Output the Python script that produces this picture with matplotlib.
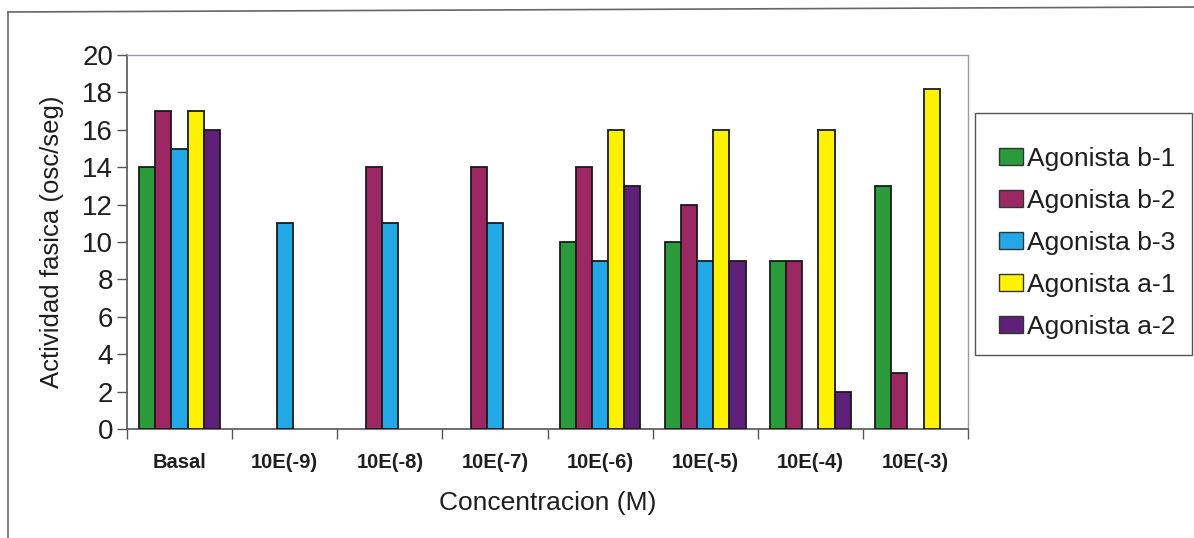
import numpy as np
import matplotlib
matplotlib.use("Agg")
import matplotlib.pyplot as plt
from matplotlib.patches import Patch, Rectangle
from matplotlib.lines import Line2D

plt.rcParams['font.family'] = ['Liberation Sans', 'DejaVu Sans']

# Data
categories = ["Basal", "10E(-9)", "10E(-8)", "10E(-7)", "10E(-6)", "10E(-5)", "10E(-4)", "10E(-3)"]
series_names = ["Agonista b-1", "Agonista b-2", "Agonista b-3", "Agonista a-1", "Agonista a-2"]
nan = np.nan
agonista_b1 = [14, nan, nan, nan, 10, 10, 9, 13]
agonista_b2 = [17, nan, 14, 14, 14, 12, 9, 3]
agonista_b3 = [15, 11, 11, 11, 9, 9, nan, nan]
agonista_a1 = [17, nan, nan, nan, 16, 16, 16, 18.2]
agonista_a2 = [16, nan, nan, nan, 13, 9, 2, nan]
series_values = [agonista_b1, agonista_b2, agonista_b3, agonista_a1, agonista_a2]
series_colors = ["#2b9a3a", "#9b2862", "#22a8e6", "#fff200", "#5e2078"]
y_ticks = [0, 2, 4, 6, 8, 10, 12, 14, 16, 18, 20]

W, H = 1194, 538
fig = plt.figure(figsize=(W / 100, H / 100), dpi=100)
fig.patch.set_facecolor("white")

# plot area in pixel bounds
left, right, top, bottom = 127, 968, 55, 429
ax = fig.add_axes([left / W, 1 - bottom / H, (right - left) / W, (bottom - top) / H])

n = len(series_values)
width = 1 / (n + 1.5)
x = np.arange(len(categories))
for i, (vals, col) in enumerate(zip(series_values, series_colors)):
    vals = np.asarray(vals, dtype=float)
    mask = np.isfinite(vals)
    ax.bar(x[mask] + (i - (n - 1) / 2) * width, vals[mask], width=width,
           color=col, edgecolor="#1a1a1a", linewidth=1.3, zorder=3)

ax.set_xlim(-0.5, len(categories) - 0.5)
ax.set_ylim(0, 20)
ax.set_yticks(y_ticks)
ax.set_yticklabels([str(t) for t in y_ticks], fontsize=20, color="#1e1e1e")
ax.tick_params(axis="y", length=7, width=1, color="#555555", pad=3)

# category labels centered, tick marks between categories
ax.set_xticks(x)
ax.set_xticklabels(categories, fontsize=14.5, fontweight="bold", color="#1e1e1e")
ax.tick_params(axis="x", length=0, pad=17)
ax.set_xticks(np.arange(-0.5, len(categories)), minor=True)
ax.tick_params(axis="x", which="minor", length=7, width=1, color="#555555")

ax.set_ylabel("Actividad fasica (osc/seg)", fontsize=18.5, color="#1e1e1e", labelpad=13)
ax.set_xlabel("Concentracion (M)", fontsize=19, color="#1e1e1e", labelpad=14)

for side in ["left", "bottom"]:
    ax.spines[side].set_color("#555555")
    ax.spines[side].set_linewidth(1.2)
for side in ["top", "right"]:
    ax.spines[side].set_color("#9a9aaa")
    ax.spines[side].set_linewidth(1.0)

# legend entries with a separately drawn frame
handles = [Patch(facecolor=c, edgecolor="#333333", linewidth=1.0) for c in series_colors]
leg = fig.legend(handles, series_names, loc="upper left",
                 bbox_to_anchor=(991 / W, 1 - 139 / H), fontsize=19,
                 frameon=False,
                 handlelength=0.9, handleheight=0.65, handletextpad=0.15,
                 labelspacing=0.68, borderpad=0.3, borderaxespad=0)
for t in leg.get_texts():
    t.set_color("#1e1e1e")
fig.add_artist(Rectangle((975 / W, 1 - 355 / H), (1192 - 975) / W, (355 - 113) / H,
                         transform=fig.transFigure, facecolor="none",
                         edgecolor="#555555", linewidth=1.0))

# outer chart frame
fig.add_artist(Line2D([8 / W, 8 / W], [0, 1 - 12 / H], transform=fig.transFigure,
                      color="#666666", linewidth=1.2))
fig.add_artist(Line2D([8 / W, 1], [1 - 12 / H, 1 - 7 / H], transform=fig.transFigure,
                      color="#666666", linewidth=1.2))

fig.savefig("out.png", dpi=100, facecolor="white")
